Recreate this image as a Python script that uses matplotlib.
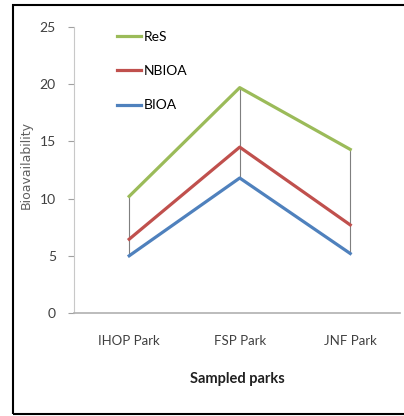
import numpy as np
import matplotlib.pyplot as plt
from matplotlib.patches import Rectangle

parks = ['IHOP Park', 'FSP Park', 'JNF Park']
res = [10.2, 19.7, 14.3]
nbioa = [6.45, 14.5, 7.7]
bioa = [5.0, 11.8, 5.2]

narrow = ['Lato', 'DejaVu Sans']

fig = plt.figure(figsize=(4.04, 4.16), dpi=100)
ax = fig.add_axes([0.183, 0.2476, 0.807, 0.6875])

x = np.arange(len(parks))
# high-low lines
lo = np.minimum(np.minimum(res, nbioa), bioa)
hi = np.maximum(np.maximum(res, nbioa), bioa)
ax.vlines(x, lo, hi, color='#7f7f7f', lw=0.8, zorder=1)

ax.plot(x, res, color='#9BBB59', lw=2.3, label='ReS', zorder=3)
ax.plot(x, nbioa, color='#C0504D', lw=2.3, label='NBIOA', zorder=3)
ax.plot(x, bioa, color='#4F81BD', lw=2.3, label='BIOA', zorder=3)

ax.set_xlim(-0.5, 2.45)
ax.set_ylim(0, 25)
ax.set_yticks([0, 5, 10, 15, 20, 25])
ax.set_xticks(x)
ax.set_xticklabels(parks, family=narrow, fontsize=9.5, color='#404040')
for t in ax.get_yticklabels():
    t.set_family(narrow)
    t.set_fontsize(10)
    t.set_color('#404040')
ax.tick_params(axis='x', length=0, pad=16)
ax.tick_params(axis='y', length=4, color='#a0a0a0', pad=9)

for s in ['top', 'right']:
    ax.spines[s].set_visible(False)
ax.spines['left'].set_color('#c8c8c8')
ax.spines['bottom'].set_color('#b0b0b0')
ax.spines['bottom'].set_linewidth(1.2)

ax.set_xlabel('Sampled parks', family=narrow, fontsize=10.5, fontweight='bold',
              color='#202020', labelpad=18)
ax.set_ylabel('Bioavailability', fontsize=9, color='#606060')
ax.yaxis.set_label_coords(-0.125, 0.517)

ax.legend(loc='upper left', bbox_to_anchor=(0.095, 1.03), frameon=False,
          handlelength=1.7, handletextpad=0.2, labelspacing=1.6,
          prop={'family': narrow, 'size': 10})

fig.patches.append(Rectangle((0.031, 0.005), 1.2, 0.983, transform=fig.transFigure,
                             fill=False, edgecolor='black', lw=1.5))

fig.savefig('out.png', dpi=100)
